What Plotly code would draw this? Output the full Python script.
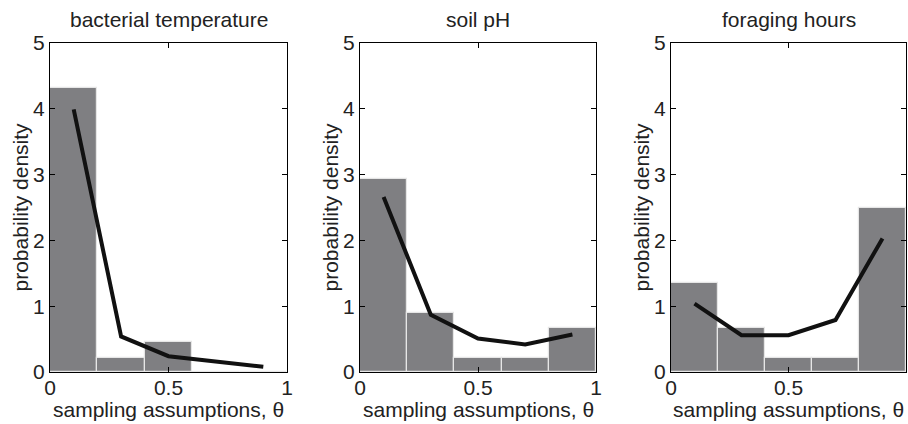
import plotly.graph_objects as go

titles = ["bacterial temperature", "soil pH", "foraging hours"]
bin_centers = [0.1, 0.3, 0.5, 0.7, 0.9]
bars_bacterial = [4.31, 0.22, 0.45, 0.0, 0.0]
bars_soil = [2.94, 0.90, 0.22, 0.22, 0.67]
bars_foraging = [1.36, 0.67, 0.22, 0.22, 2.49]
line_bacterial = [3.99, 0.54, 0.24, 0.16, 0.08]
line_soil = [2.66, 0.87, 0.51, 0.42, 0.57]
line_foraging = [1.04, 0.56, 0.56, 0.79, 2.03]
x_ticks = [0, 0.5, 1]
x_ticklabels = ["0", "0.5", "1"]
y_ticks = [0, 1, 2, 3, 4, 5]

bars = [bars_bacterial, bars_soil, bars_foraging]
lines = [line_bacterial, line_soil, line_foraging]

W, H = 908, 424
ref_domains = [(50, 287), (360, 596), (671, 906)]
ref_top, ref_bot = 43, 372

font = "Liberation Sans, Arial, sans-serif"
fs = 21
col = "#222222"
fig = go.Figure()
for i in range(3):
    xa = "x" if i == 0 else f"x{i+1}"
    ya = "y" if i == 0 else f"y{i+1}"
    fig.add_trace(go.Bar(x=bin_centers, y=bars[i], width=0.2,
                         marker=dict(color="#7f7f82", line=dict(color="#e6e6e6", width=1.2)),
                         xaxis=xa, yaxis=ya, showlegend=False))
    fig.add_trace(go.Scatter(x=bin_centers, y=lines[i], mode="lines",
                             line=dict(color="#111111", width=4),
                             xaxis=xa, yaxis=ya, showlegend=False))
    d0, d1 = ref_domains[i]
    axkw = dict(showline=True, linecolor="black", linewidth=1, mirror="ticks",
                ticks="inside", ticklen=5, tickcolor="black", showgrid=False,
                zeroline=False, automargin=False,
                tickfont=dict(size=fs, color=col, family=font))
    xkey = "xaxis" if i == 0 else f"xaxis{i+1}"
    ykey = "yaxis" if i == 0 else f"yaxis{i+1}"
    fig.layout[xkey] = dict(domain=[d0 / W, d1 / W], range=[0, 1], tickvals=x_ticks,
                            ticktext=x_ticklabels, anchor=ya, ticklabelstandoff=-3, **axkw)
    fig.layout[ykey] = dict(domain=[1 - ref_bot / H, 1 - ref_top / H],
                            range=[0, 5], tickvals=y_ticks, anchor=xa, **axkw)
    cx = (d0 + d1) / 2 / W
    fig.add_annotation(text=titles[i], x=cx, y=1 - 20 / H,
                       xref="paper", yref="paper", showarrow=False,
                       xanchor="center", yanchor="middle",
                       font=dict(size=fs, color=col, family=font))
    fig.add_annotation(text="sampling assumptions, θ", x=cx, y=1 - 409 / H,
                       xref="paper", yref="paper", showarrow=False,
                       xanchor="center", yanchor="middle",
                       font=dict(size=fs, color=col, family=font))
    fig.add_annotation(text="probability density", textangle=-90,
                       x=(d0 - 30) / W, y=1 - ((ref_top + ref_bot) / 2) / H,
                       xref="paper", yref="paper", showarrow=False,
                       xanchor="center", yanchor="middle",
                       font=dict(size=fs, color=col, family=font))

fig.update_layout(width=W, height=H, margin=dict(l=0, r=0, t=0, b=0),
                  plot_bgcolor="white", paper_bgcolor="white", bargap=0)
fig.write_html("out.html", config={"displayModeBar": False},
               post_script="document.body.style.margin='0';document.body.style.overflow='hidden';")
